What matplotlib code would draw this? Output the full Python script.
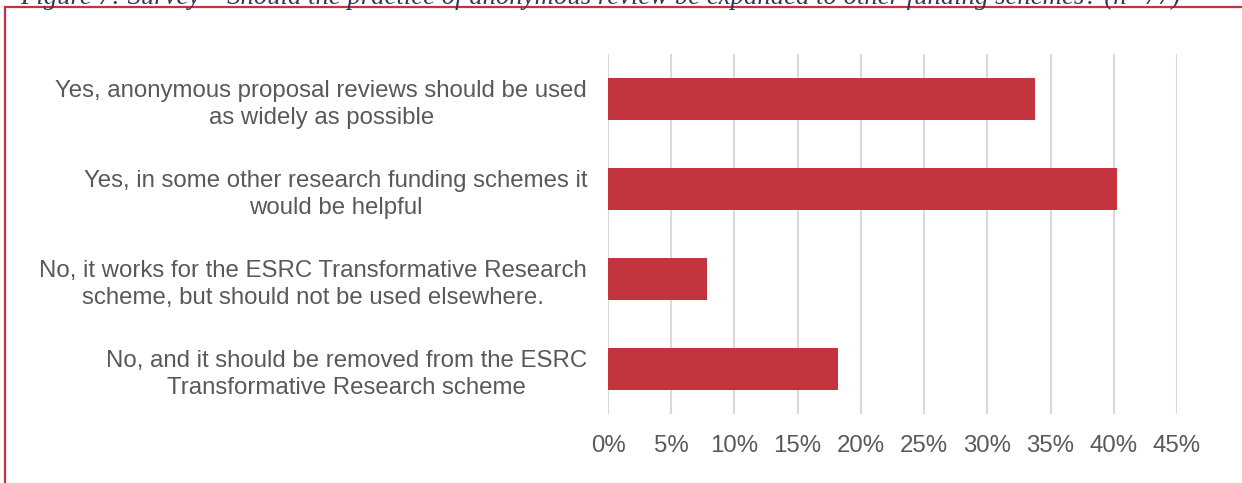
import matplotlib
matplotlib.use("Agg")
import matplotlib.pyplot as plt
from matplotlib.patches import Rectangle
from matplotlib.ticker import PercentFormatter

categories = [
    "Yes, anonymous proposal reviews should be used\nas widely as possible",
    "Yes, in some other research funding schemes it\nwould be helpful",
    "No, it works for the ESRC Transformative Research\nscheme, but should not be used elsewhere.",
    "No, and it should be removed from the ESRC\nTransformative Research scheme",
]
counts = [26, 31, 6, 14]
n_respondents = 77
shares = [c / n_respondents for c in counts]
x_ticks = [0.0, 0.05, 0.10, 0.15, 0.20, 0.25, 0.30, 0.35, 0.40, 0.45]

caption = ("Figure 7: Survey \u2013 Should the practice of anonymous review be "
           "expanded to other funding schemes? (n=77)")

bar_color = "#C3343F"
text_color = "#595959"
grid_color = "#D9D9D9"

fig = plt.figure(figsize=(12.42, 4.83), dpi=100)
fig.patch.set_facecolor("white")

ax = fig.add_axes([608 / 1242, 1 - 414 / 483, (1177 - 608) / 1242, (414 - 54) / 483])

pos = list(range(len(categories)))
ax.barh(pos, shares, height=0.476, color=bar_color, edgecolor="none", zorder=3)

ax.set_ylim(len(categories) - 0.5, -0.5)
ax.set_xlim(0, 0.45)
ax.set_xticks(x_ticks)
ax.xaxis.set_major_formatter(PercentFormatter(1.0, decimals=0))
ax.set_yticks(pos)
ax.set_yticklabels(categories, ha="right", multialignment="center")

for lab in ax.get_yticklabels():
    lab.set_fontfamily("Liberation Sans")
    lab.set_fontsize(17.3)
    lab.set_color(text_color)
    lab.set_linespacing(1.3)
for lab in ax.get_xticklabels():
    lab.set_fontfamily("Liberation Sans")
    lab.set_fontsize(17.3)
    lab.set_color(text_color)

ax.tick_params(axis="y", length=0, pad=15)
ax.tick_params(axis="x", length=0, pad=15)
ax.grid(axis="x", color=grid_color, linewidth=1.5, zorder=0)
for side in ax.spines.values():
    side.set_visible(False)

# Frame around the figure block
frame = Rectangle((5 / 1242, -0.1), 1.2, 1 - 7 / 483 + 0.1,
                  transform=fig.transFigure, fill=False,
                  edgecolor=bar_color, linewidth=1.6, clip_on=False)
fig.add_artist(frame)

# Caption line above the frame
fig.text(20 / 1242, 1 - 4 / 483, caption, ha="left", va="baseline",
         fontfamily="Liberation Serif", fontstyle="italic", fontsize=19.3,
         color="#2E3B55")

fig.savefig("out.png", dpi=100, facecolor="white")
